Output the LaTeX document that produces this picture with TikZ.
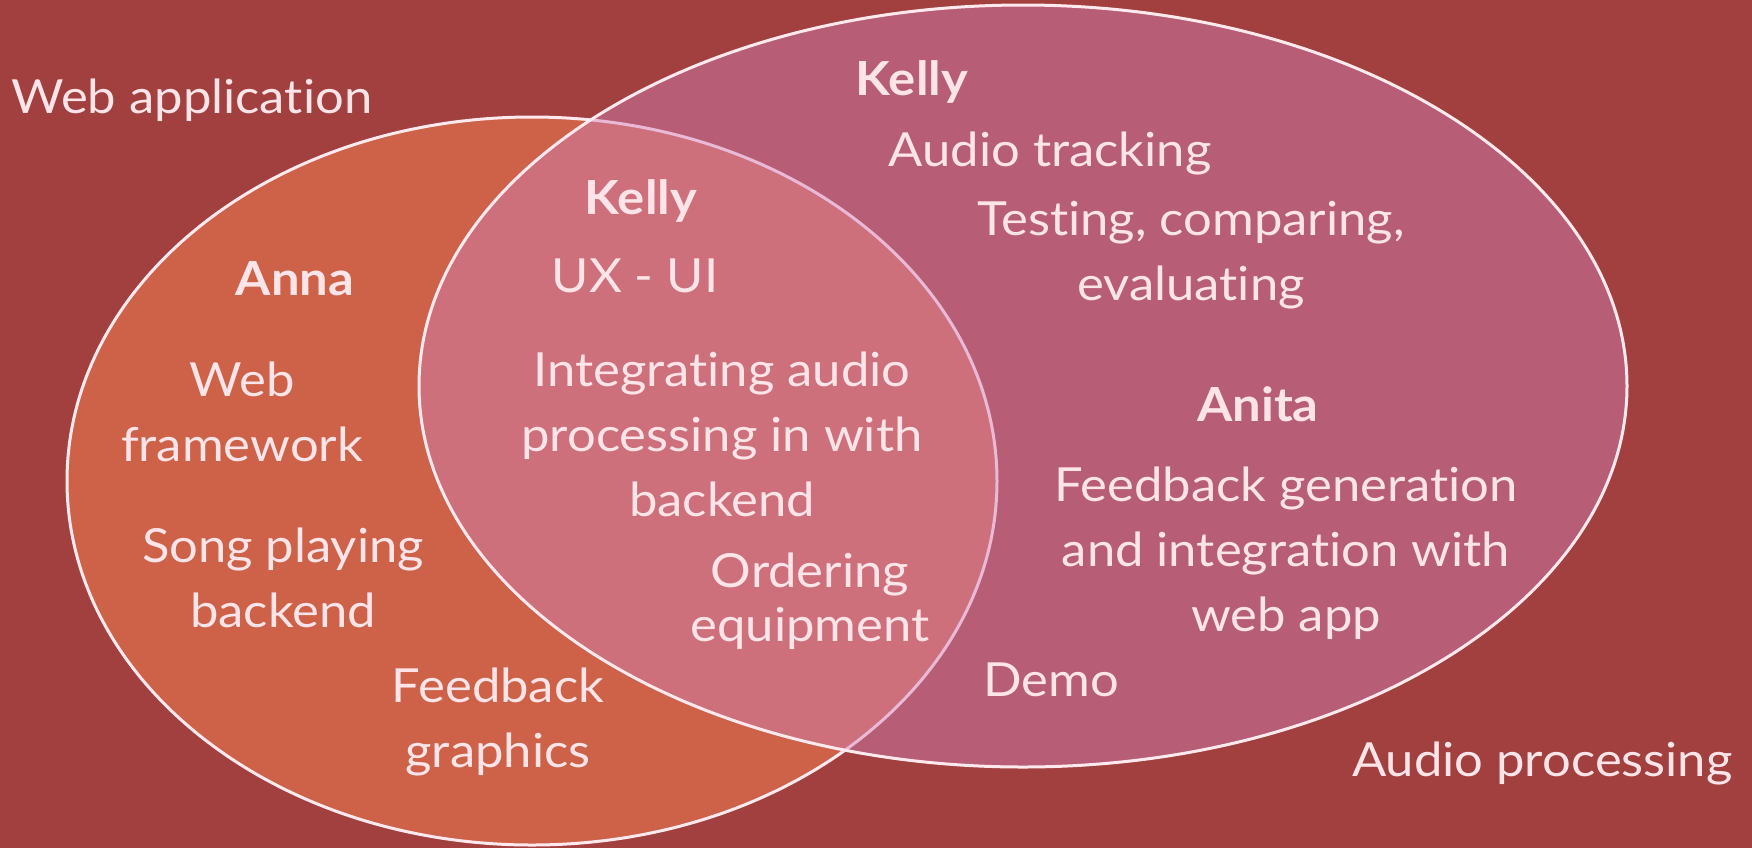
\documentclass[tikz,border=0pt]{standalone}
\usepackage{fontspec}
\setmainfont{Lato}[Ligatures=NoCommon,FakeStretch=1.08]
\definecolor{bgred}{HTML}{A23F3F}
\definecolor{leftfill}{HTML}{CD6249}
\definecolor{rightfill}{HTML}{D082B9}
\definecolor{rimcol}{HTML}{FFE9EE}
\definecolor{txtcol}{HTML}{FCE4E8}
\begin{document}
\begin{tikzpicture}[x=0.5pt,y=-0.5pt,
  lbl/.style={text=txtcol,inner sep=0pt,align=center,font=\fontsize{23.5}{32.5}\selectfont},
  pname/.style={lbl,font=\fontsize{23.5}{32.5}\selectfont\bfseries},
  rim/.style={draw=rimcol,line width=1.5pt}]
\fill[bgred] (0,0) rectangle (1752,848);
\useasboundingbox (0,0) rectangle (1752,848);
% left ellipse
\path[fill=leftfill,rim] (532,481) ellipse [x radius=232.5pt,y radius=182pt];
% right ellipse
\fill[rightfill,fill opacity=0.46] (1023,386) ellipse [x radius=302pt,y radius=190.5pt];
\draw[rim] (1023,386) ellipse [x radius=302pt,y radius=190.5pt];
% texts
\node[lbl,anchor=west] (webapp) at (11,100) {Web application};
\node[pname] (kelly1) at (912,82) {Kelly};
\node[lbl] (audiotrack) at (1050,153) {Audio tracking};
\node[lbl] (testing) at (1191,255) {Testing, comparing,\\evaluating};
\node[pname] (kelly2) at (641,201) {Kelly};
\node[lbl] (uxui) at (635,276) {UX - UI};
\node[lbl] (integ) at (722,434) {Integrating audio\\processing in with\\backend};
\node[pname] (anna) at (295,279) {Anna};
\node[lbl] (webfw) at (242,412) {Web\\framework};
\node[lbl] (song) at (283,578) {Song playing\\backend};
\node[lbl] (fbgraph) at (498,722) {Feedback\\graphics};
\node[lbl,font=\fontsize{23.5}{27}\selectfont] (order) at (810,601) {Ordering\\equipment};
\node[pname] (anita) at (1258,404) {Anita};
\node[lbl] (fbgen) at (1286,553) {Feedback generation\\and integration with\\web app};
\node[lbl] (demo) at (1051,680) {Demo};
\node[lbl,anchor=east] (audproc) at (1733,763) {Audio processing};
\end{tikzpicture}
\end{document}
